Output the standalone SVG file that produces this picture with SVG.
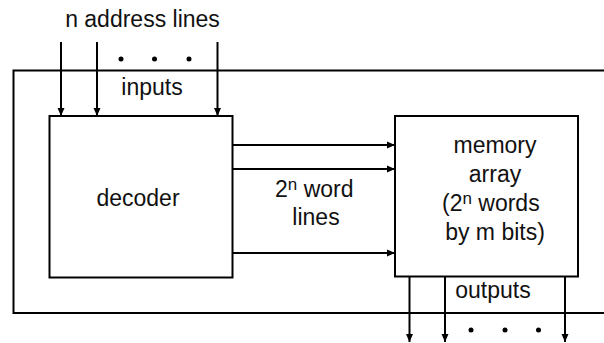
<svg xmlns="http://www.w3.org/2000/svg" width="604" height="343" viewBox="0 0 604 343">
  <style>
    .box { fill: #ffffff; stroke: #000000; stroke-width: 2; }
    .frame { fill: none; stroke: #000000; stroke-width: 2; }
    .wire { stroke: #000000; stroke-width: 2; fill: none; marker-end: url(#head); }
    .dot { fill: #000000; }
    text { font-family: "Liberation Sans", Arial, sans-serif; font-size: 23px; fill: #111111; }
    .mid { text-anchor: middle; }
    .sup { font-size: 17px; }
  </style>
  <defs>
    <marker id="head" markerUnits="userSpaceOnUse" markerWidth="9" markerHeight="8" refX="8" refY="4" orient="auto">
      <path d="M0,0.5 L8,4 L0,7.5 Z" fill="#000000"/>
    </marker>
  </defs>

  <!-- enclosing chip outline (open on the right) -->
  <path class="frame" d="M606,70.5 H13.5 V313 H606"/>

  <g id="decoder">
    <rect class="box" x="49.5" y="116" width="183" height="161.5"/>
    <text class="mid" x="138" y="206">decoder</text>
  </g>

  <g id="memory-array">
    <rect class="box" x="395" y="116" width="183" height="160.5"/>
    <text class="mid" x="495" y="153">memory</text>
    <text class="mid" x="495" y="182">array</text>
    <text x="442" y="211">(2<tspan class="sup" dy="-7.5">n</tspan><tspan dy="7.5"> words</tspan></text>
    <text class="mid" x="495" y="240">by m bits)</text>
  </g>

  <g id="connectors">
    <!-- address inputs -->
    <line class="wire" x1="61" y1="42" x2="61" y2="116"/>
    <line class="wire" x1="97" y1="42" x2="97" y2="116"/>
    <line class="wire" x1="217.5" y1="42" x2="217.5" y2="116"/>
    <!-- word lines -->
    <line class="wire" x1="232.5" y1="145" x2="395" y2="145"/>
    <line class="wire" x1="232.5" y1="169" x2="395" y2="169"/>
    <line class="wire" x1="232.5" y1="253" x2="395" y2="253"/>
    <!-- data outputs -->
    <line class="wire" x1="409.5" y1="277" x2="409.5" y2="342"/>
    <line class="wire" x1="445" y1="277" x2="445" y2="342"/>
    <line class="wire" x1="565" y1="277" x2="565" y2="342"/>
  </g>

  <g id="labels">
    <text class="mid" x="142.5" y="27">n address lines</text>
    <circle class="dot" cx="121" cy="59" r="2.5"/>
    <circle class="dot" cx="154.5" cy="59" r="2.5"/>
    <circle class="dot" cx="189" cy="59" r="2.5"/>
    <text class="mid" x="152" y="95">inputs</text>

    <text x="275" y="197">2<tspan class="sup" dy="-7.5">n</tspan><tspan dy="7.5"> word</tspan></text>
    <text class="mid" x="316" y="225">lines</text>

    <text class="mid" x="493" y="298">outputs</text>
    <circle class="dot" cx="471" cy="330" r="2.5"/>
    <circle class="dot" cx="505" cy="330" r="2.5"/>
    <circle class="dot" cx="538.5" cy="330" r="2.5"/>
  </g>
</svg>
